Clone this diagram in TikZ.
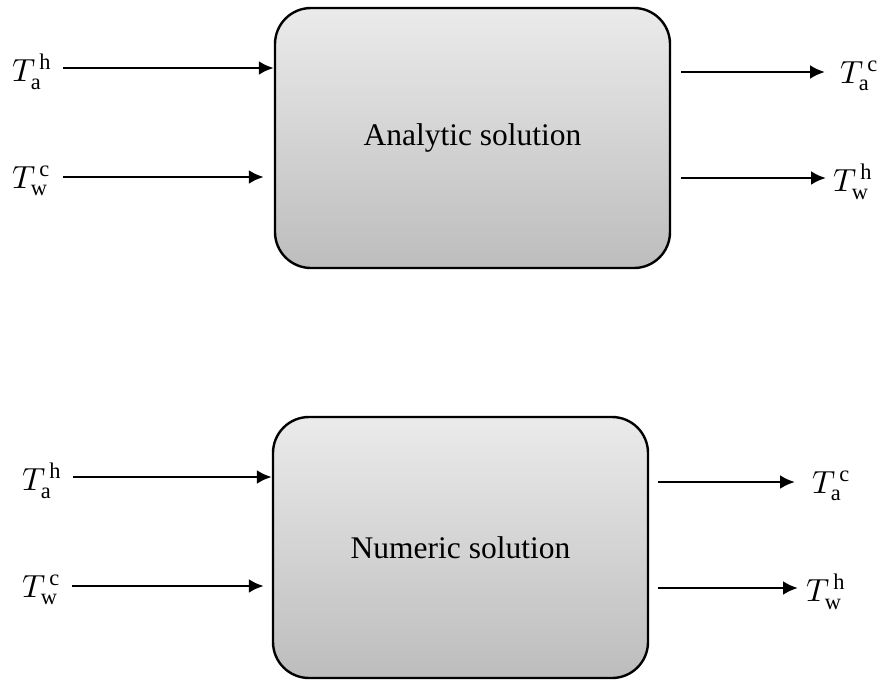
\documentclass[tikz,border=0pt]{standalone}
\usepackage{fontspec}
\usepackage{unicode-math}
\setmainfont{Liberation Serif}
\setmathfont{Latin Modern Math}
\usetikzlibrary{arrows.meta}
\begin{document}
\begin{tikzpicture}[x=1pt,y=-1pt,
  solbox/.style={draw=black, line width=2.4pt, rounded corners=36pt,
    top color=black!8, bottom color=black!26, inner sep=0pt,
    font=\fontsize{31.5}{36}\selectfont},
  lbl/.style={inner sep=0pt, font=\fontsize{32}{36}\selectfont},
  arr/.style={line width=2.8pt, -{Latex[length=15pt,width=14pt]}}]
\useasboundingbox (0,0) rectangle (879,681);
% top
\node[solbox, minimum width=395pt, minimum height=260pt] (A) at (472.5,138) {Analytic solution};
\node[lbl, anchor=west] (A1) at (12,72) {$T_{\mathrm{a}}^{\,\mathrm{h}}$};
\node[lbl, anchor=west] (A2) at (12,181) {$T_{\mathrm{w}}^{\,\mathrm{c}}$};
\node[lbl, anchor=west] (A3) at (840,76) {$T_{\mathrm{a}}^{\,\mathrm{c}}$};
\node[lbl, anchor=west] (A4) at (833,182) {$T_{\mathrm{w}}^{\,\mathrm{h}}$};
\coordinate (a1s) at (63,68);
\coordinate (a2s) at (63,177);
\coordinate (a3e) at (825,72);
\coordinate (a4e) at (826,178);
\draw[arr] (a1s) -- (A.west |- a1s);
\draw[arr] (a2s) -- ([xshift=-10pt]A.west |- a2s);
\draw[arr] ([xshift=10pt]A.east |- a3e) -- (a3e);
\draw[arr] ([xshift=10pt]A.east |- a4e) -- (a4e);
% bottom
\node[solbox, minimum width=375pt, minimum height=261pt] (B) at (460.5,547.5) {Numeric solution};
\node[lbl, anchor=west] (B1) at (22,481) {$T_{\mathrm{a}}^{\,\mathrm{h}}$};
\node[lbl, anchor=west] (B2) at (22,590) {$T_{\mathrm{w}}^{\,\mathrm{c}}$};
\node[lbl, anchor=west] (B3) at (812,486) {$T_{\mathrm{a}}^{\,\mathrm{c}}$};
\node[lbl, anchor=west] (B4) at (806,592) {$T_{\mathrm{w}}^{\,\mathrm{h}}$};
\coordinate (b1s) at (73,477);
\coordinate (b2s) at (72,586);
\coordinate (b3e) at (795,482);
\coordinate (b4e) at (798,588);
\draw[arr] (b1s) -- (B.west |- b1s);
\draw[arr] (b2s) -- ([xshift=-8pt]B.west |- b2s);
\draw[arr] ([xshift=9pt]B.east |- b3e) -- (b3e);
\draw[arr] ([xshift=9pt]B.east |- b4e) -- (b4e);
\end{tikzpicture}
\end{document}
